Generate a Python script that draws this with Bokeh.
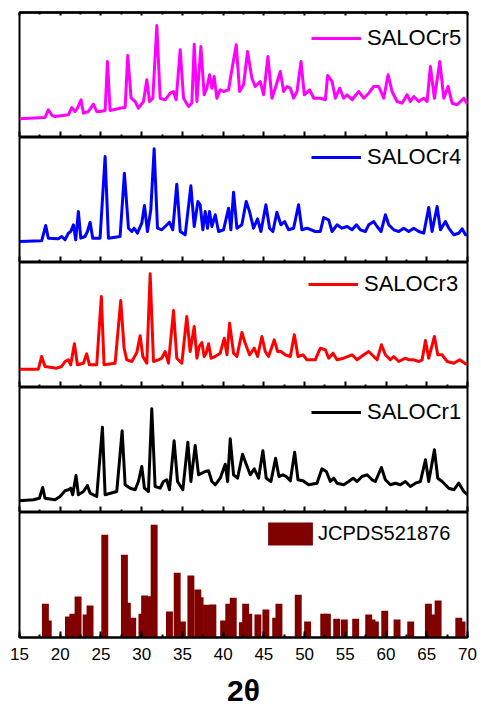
from bokeh.plotting import figure
from bokeh.layouts import column
from bokeh.models import (Range1d, SingleIntervalTicker, FixedTicker, LinearAxis, Legend,
                          LegendItem)
from bokeh.embed import file_html
from bokeh.resources import INLINE

# ---------------- data (2theta in degrees, intensity in a.u.) ----------------
x_min, x_max, x_step = 15, 70, 5
major_pos = list(range(x_min, x_max + 1, x_step))          # 15, 20, ... 70
minor_pos = [m + x_step / 2 for m in major_pos[:-1]]        # 17.5, 22.5, ... 67.5

cr5_t = [15.0, 18.13, 18.54, 19.0, 19.36, 21.0, 21.41, 21.82, 22.11, 22.56, 22.85, 23.46, 24.07, 24.48,
         24.89, 25.51, 25.80, 26.12, 27.35, 27.97, 28.29, 28.70, 29.20, 29.60, 30.22, 30.63, 30.96, 31.37,
         31.86, 32.27, 32.88, 33.50, 33.91, 34.23, 34.73, 35.14, 35.75, 36.16, 36.45, 36.78, 37.27, 37.67,
         38.00, 38.33, 38.62, 38.90, 39.23, 39.64, 40.05, 40.67, 41.07, 41.61, 42.02, 42.51, 43.00, 43.53,
         43.94, 44.56, 44.97, 45.50, 45.99, 46.40, 47.02, 47.43, 47.84, 48.25, 48.66, 49.07, 49.56, 49.97,
         50.63, 51.12, 51.94, 52.55, 52.83, 53.37, 53.78, 54.31, 54.80, 55.21, 55.83, 56.64, 57.26, 57.87,
         58.49, 59.10, 59.72, 60.25, 60.74, 61.36, 61.97, 62.58, 62.99, 63.40, 64.02, 64.63, 65.04, 65.45,
         65.94, 66.60, 67.09, 67.62, 68.11, 68.73, 69.55, 70.0]
cr5_i = [18.7, 20, 27.7, 22, 21, 22.7, 30, 26, 29.3, 37.7, 24.3, 26, 33.3, 26,
         26, 27, 76, 27, 29.3, 30, 82, 39.3, 36, 29.3, 36, 57.7, 36, 39.3,
         112, 39.3, 37.7, 44.3, 46, 37.7, 87.7, 39.3, 31, 34.3, 93.3, 36, 91, 42.7,
         49.3, 62.7, 49.3, 61, 39.3, 47.7, 46, 47.7, 67.7, 92.7, 46, 52.7, 86, 59.3,
         51, 56, 42.7, 81, 39.3, 49.3, 66, 46, 51, 49.3, 39.3, 46, 76, 42.7,
         47.7, 39.3, 39.3, 37.7, 62, 56, 39.3, 49.3, 39.3, 42.7, 37.7, 46, 39.3, 44.3,
         51, 51, 39.3, 62.7, 46, 36, 34.3, 42.7, 36, 41, 36, 39.3, 36, 71,
         39.3, 76, 39.3, 51, 34.3, 32.7, 39.3, 33.3]

cr4_t = [15.0, 17.72, 18.22, 18.54, 19.77, 20.18, 20.59, 21.00, 21.29, 21.62, 21.90, 22.23, 22.52, 23.05,
         23.34, 23.67, 23.99, 24.89, 25.51, 25.92, 27.35, 27.88, 28.38, 28.79, 29.07, 29.48, 30.01, 30.34,
         30.71, 31.12, 31.53, 31.94, 32.47, 32.88, 33.41, 33.82, 34.31, 34.73, 35.34, 36.04, 36.45, 36.90,
         37.18, 37.51, 37.80, 38.08, 38.33, 38.62, 39.03, 39.44, 40.05, 40.67, 40.95, 41.28, 41.69, 42.30,
         42.83, 43.24, 43.73, 44.23, 44.64, 45.25, 45.70, 46.11, 46.60, 47.09, 47.54, 48.04, 48.65, 49.26,
         49.67, 50.29, 51.31, 51.93, 52.34, 52.96, 53.37, 53.98, 54.59, 55.21, 55.83, 56.36, 56.85, 57.46,
         57.87, 58.49, 58.90, 59.39, 59.92, 60.33, 60.94, 61.56, 62.17, 62.79, 63.40, 64.02, 64.63, 65.24,
         65.65, 66.27, 66.68, 67.29, 67.70, 68.32, 68.93, 69.34, 69.75, 70.0]
cr4_i = [21, 21.7, 37, 24.3, 23.7, 26, 22.7, 29.3, 31, 37.7, 22.7, 51, 24.3, 26,
         31, 40.3, 24.3, 24.3, 106, 24.3, 26, 89.3, 34.3, 31, 34.3, 29.3, 39.3, 57,
         31, 52.7, 113.7, 34.3, 32.7, 36, 40.3, 32.7, 78.3, 31, 27.7, 76.7, 36, 61,
         57.7, 32.7, 51, 34.3, 51, 36, 47.7, 31, 32.7, 54.3, 32.7, 70.3, 34.3, 37.7,
         61, 51, 34.3, 43.7, 31, 57.7, 34.3, 31, 50.3, 37.7, 41, 32.7, 34.3, 57.7,
         32.7, 34.3, 31, 31, 45, 42.7, 31, 37.7, 34.3, 36, 32.7, 37.7, 32.7, 31,
         37.7, 41, 36, 31, 47.7, 37.7, 32.7, 31, 34.3, 31, 34.3, 31, 29.3, 55,
         31, 56, 32.7, 41, 34.3, 27.7, 29.3, 33.7, 27.7, 27.7]

cr3_t = [15.0, 17.31, 17.72, 18.13, 19.57, 20.18, 20.59, 21.00, 21.29, 21.74, 22.11, 22.85, 23.25, 23.58,
         24.48, 25.05, 25.38, 26.74, 27.43, 27.84, 28.17, 28.79, 29.40, 29.81, 30.14, 30.63, 31.04, 31.45,
         32.06, 32.47, 32.88, 33.29, 33.91, 34.31, 34.93, 35.54, 35.95, 36.45, 36.78, 37.06, 37.39, 37.67,
         37.92, 38.21, 38.53, 39.03, 39.64, 40.14, 40.47, 40.79, 41.28, 41.69, 42.30, 42.71, 43.24, 43.82,
         44.23, 44.76, 45.17, 45.58, 46.28, 46.69, 47.09, 47.63, 48.25, 48.74, 49.19, 49.80, 50.29, 51.31,
         51.93, 52.55, 52.96, 53.49, 53.98, 54.80, 55.83, 56.44, 57.26, 57.87, 58.49, 58.90, 59.43, 59.92,
         60.53, 60.94, 61.56, 62.38, 62.79, 63.40, 64.02, 64.43, 64.84, 65.24, 65.94, 66.35, 66.89, 67.50,
         68.32, 69.05, 69.75, 70.0]
cr3_i = [18.3, 18.3, 31, 21, 19.3, 21, 26, 27.7, 22.7, 43.7, 22.7, 24.3, 33.7, 22.7,
         22.7, 91, 22.7, 24.3, 87, 39.3, 27.7, 26, 35, 51.7, 31, 24.3, 113.7, 26,
         27.7, 29.3, 36, 24.3, 77, 29.3, 24.3, 71, 36, 61, 29.3, 41, 45, 31,
         34.3, 43.7, 29.3, 31, 34.3, 49.3, 32.7, 64.3, 34.3, 31, 55, 44.3, 32.7, 39.3,
         31, 51, 36, 31, 47.7, 36, 36, 32.7, 31, 52.7, 31, 32.7, 27.7, 27.7,
         39.3, 37.7, 29.3, 34.3, 27.7, 29.3, 32.7, 27.7, 32.7, 36, 31, 27.7, 42.7, 32.7,
         27.7, 31, 26, 29.3, 27.7, 27.7, 26, 27.7, 47, 29.3, 51, 32.7, 32.7, 26,
         24.3, 27.7, 23.7, 23.7]

cr1_t = [15.0, 16.70, 17.44, 17.85, 18.13, 19.36, 19.98, 20.59, 21.00, 21.29, 21.53, 21.94, 22.23, 22.85,
         23.34, 23.67, 24.48, 25.18, 25.51, 26.94, 27.60, 27.97, 28.59, 29.20, 29.60, 30.01, 30.34, 30.83,
         31.24, 31.65, 32.27, 32.67, 33.08, 33.41, 33.98, 34.40, 35.05, 35.67, 36.04, 36.57, 36.98, 37.39,
         37.80, 38.21, 38.62, 39.03, 39.64, 40.26, 40.55, 40.87, 41.28, 41.77, 42.38, 42.79, 43.33, 43.82,
         44.35, 44.88, 45.29, 45.87, 46.44, 46.85, 47.34, 47.75, 48.25, 48.78, 49.19, 49.80, 50.50, 51.52,
         52.13, 52.67, 53.16, 53.57, 53.98, 54.80, 55.42, 55.95, 56.44, 57.05, 57.67, 58.28, 58.69, 59.43,
         59.92, 60.53, 61.15, 61.76, 62.38, 62.99, 63.61, 64.22, 64.84, 65.24, 65.94, 66.35, 66.89, 67.70,
         68.32, 68.93, 69.55, 70.0]
cr1_i = [11.7, 12.7, 14.3, 25, 14.3, 12.7, 16, 21.7, 22.7, 24.3, 17.7, 37, 17.7, 21,
         27, 19.3, 16, 85.3, 17.7, 21, 81.7, 27.7, 24.3, 22.7, 31, 46, 24.3, 21,
         103.7, 26, 24.3, 31, 32.7, 22.7, 71.7, 31, 22.7, 70.3, 31, 67, 37.7, 39.3,
         41, 41.7, 31, 27.7, 34.3, 48.3, 31, 73.7, 37.7, 34.3, 58.3, 49.3, 37.7, 43.7,
         34.3, 61.7, 34.3, 31, 54.3, 36, 37.7, 36, 31.7, 60.3, 32.7, 31.7, 27.7, 29.3,
         43.7, 41, 31, 34.3, 29.3, 27.7, 31, 34.3, 31, 36, 37.7, 32.7, 31, 45,
         32.7, 27.7, 29.3, 27.7, 31, 26, 29.3, 31, 52.7, 31, 62.7, 34.3, 31, 24.3,
         22.7, 29.3, 21, 17.7]

jcpds_t = [18.18, 18.53, 21.01, 21.55, 22.19, 23.18, 23.66, 25.47, 27.88, 28.24, 28.90, 30.03, 30.36,
           31.00, 31.53, 33.41, 34.36, 35.00, 36.04, 36.89, 37.17, 37.96, 38.74, 40.06, 40.69, 41.24,
           42.36, 42.76, 43.15, 44.27, 45.25, 46.45, 46.85, 49.22, 50.37, 52.35, 52.80, 53.94, 54.88,
           56.27, 57.87, 58.28, 58.69, 59.84, 61.35, 63.03, 65.20, 65.80, 66.39, 68.93, 69.33]
jcpds_i = [33.7, 17, 21, 23.7, 41, 23, 32, 102.7, 82.7, 34.7, 19.7, 23.7, 42,
           41.3, 112.7, 26, 64.7, 16, 62, 48, 40.3, 32.7, 33, 17, 33.7, 39.7,
           15.3, 33.7, 23.7, 23, 28, 19.7, 33.7, 42.7, 16, 23.7, 23.7, 18.7, 18,
           18.7, 23, 18, 16, 26.7, 18, 16, 33.7, 23, 37, 19.7, 16]

x_label = "2θ"
series = [
    ("SALOCr5", cr5_t, cr5_i, "#FF00FF"),
    ("SALOCr4", cr4_t, cr4_i, "#0000FF"),
    ("SALOCr3", cr3_t, cr3_i, "#FF0000"),
    ("SALOCr1", cr1_t, cr1_i, "#000000"),
]
bar_label = "JCPDS521876"
bar_color = "#800000"

FONT = "Liberation Sans"
xr = Range1d(x_min, x_max)


def tick_axis(positions, length):
    """An axis that only draws inward tick marks (no labels)."""
    return LinearAxis(ticker=FixedTicker(ticks=[], minor_ticks=positions),
                      major_tick_in=0, major_tick_out=0,
                      minor_tick_in=length, minor_tick_out=0,
                      minor_tick_line_width=2, minor_tick_line_color="black",
                      axis_line_width=2, axis_line_color="black",
                      major_label_standoff=0, axis_label=None)


def make_panel(height, top, bottom, with_axis):
    p = figure(width=481, height=height, x_range=xr, y_range=Range1d(0, 125),
               output_backend="svg", toolbar_location=None, y_axis_location=None,
               x_axis_location="below" if with_axis else None,
               min_border_left=19, min_border_right=14,
               min_border_top=top, min_border_bottom=bottom)
    p.grid.visible = False
    p.outline_line_color = "black"
    p.outline_line_width = 2
    p.background_fill_color = "white"
    p.border_fill_color = "white"
    return p


def add_legend(p, renderer, label, loc, gw, gh, standoff, size):
    leg = Legend(items=[LegendItem(label=label, renderers=[renderer])], location=loc,
                 glyph_width=gw, glyph_height=gh, label_height=gh, label_standoff=standoff,
                 padding=0, margin=0, spacing=0, border_line_color=None,
                 background_fill_alpha=0, label_text_font=FONT, label_text_font_size=size,
                 label_text_color="black")
    p.add_layout(leg)


legend_locs = [(292, 84), (292, 90), (289, 88), (292, 85)]
panels = []
for k, (name, t, inten, color) in enumerate(series):
    if k == 0:
        p = make_panel(137, 12, 0, False)
        p.add_layout(tick_axis(major_pos, 3), "above")
        p.add_layout(tick_axis(minor_pos, 2), "above")
    else:
        p = make_panel(125, 0, 0, False)
    p.add_layout(tick_axis(major_pos, 6), "below")
    p.add_layout(tick_axis(minor_pos, 3), "below")
    r = p.line(t, inten, line_color=color, line_width=3, line_join="round")
    add_legend(p, r, name, legend_locs[k], 50, 30, 6, "22px")
    panels.append(p)

# bottom panel: reference bars (shorter first, taller drawn on top)
order = sorted(range(len(jcpds_t)), key=lambda i: jcpds_i[i])
pb = make_panel(200, 0, 75, True)
rb = pb.vbar(x=[jcpds_t[i] for i in order], top=[jcpds_i[i] for i in order], bottom=0,
             width=0.85, fill_color=bar_color, line_color=None)
add_legend(pb, rb, bar_label, (243, 89), 56, 29, 0, "20px")
ax = pb.xaxis[0]
ax.ticker = SingleIntervalTicker(interval=x_step, num_minor_ticks=2)
ax.major_tick_in = 6
ax.major_tick_out = 0
ax.minor_tick_in = 3
ax.minor_tick_out = 0
ax.axis_line_width = 2
ax.major_tick_line_width = 2
ax.minor_tick_line_width = 2
ax.major_label_text_font = FONT
ax.major_label_text_font_size = "17px"
ax.major_label_text_color = "black"
ax.major_label_standoff = 10
ax.axis_label = x_label
ax.axis_label_text_font = FONT
ax.axis_label_text_font_style = "bold"
ax.axis_label_text_font_size = "30px"
ax.axis_label_text_color = "black"
ax.axis_label_standoff = 11
panels.append(pb)

layout = column(*panels, spacing=0)
open("out.html", "w").write(file_html(layout, INLINE))
